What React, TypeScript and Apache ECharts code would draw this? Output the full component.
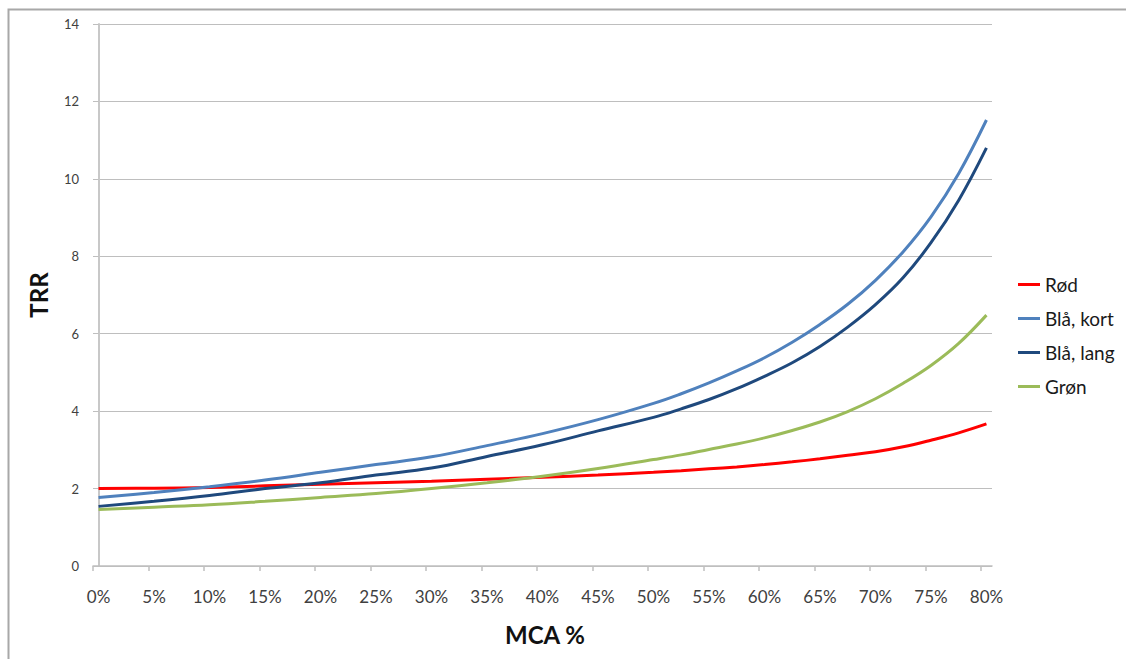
import React, { useEffect, useRef } from "react";
import * as echarts from "echarts";

// Data (MCA % -> TRR)
const mcaPct = [0, 5, 10, 15, 20, 25, 30, 35, 40, 45, 50, 52.5, 55, 57.5, 60, 62.5, 65, 67.5, 70, 72.5, 75, 77.5, 80];
const rod = [2.0, 2.01, 2.03, 2.07, 2.11, 2.15, 2.19, 2.24, 2.29, 2.35, 2.42, 2.46, 2.51, 2.56, 2.62, 2.69, 2.77, 2.86, 2.95, 3.08, 3.25, 3.44, 3.67];
const blaKort = [1.77, 1.9, 2.05, 2.22, 2.42, 2.62, 2.82, 3.11, 3.42, 3.78, 4.2, 4.45, 4.73, 5.04, 5.38, 5.78, 6.24, 6.76, 7.38, 8.12, 9.02, 10.14, 11.52];
const blaLang = [1.54, 1.67, 1.82, 2.0, 2.15, 2.35, 2.53, 2.83, 3.13, 3.49, 3.84, 4.06, 4.3, 4.58, 4.9, 5.25, 5.67, 6.17, 6.75, 7.45, 8.35, 9.45, 10.8];
const gron = [1.46, 1.52, 1.58, 1.67, 1.77, 1.87, 2.0, 2.15, 2.32, 2.52, 2.75, 2.87, 3.01, 3.15, 3.31, 3.5, 3.72, 3.99, 4.32, 4.72, 5.18, 5.75, 6.48];

const seriesNames = ["Rød", "Blå, kort", "Blå, lang", "Grøn"];
const seriesColors = ["#FF0000", "#4F81BD", "#1F497D", "#9BBB59"];
const seriesValues = [rod, blaKort, blaLang, gron];

const xLabelValues = [0, 5, 10, 15, 20, 25, 30, 35, 40, 45, 50, 55, 60, 65, 70, 75, 80];
const xTickValues = [-0.5, 4.5, 9.5, 14.5, 19.5, 24.5, 29.5, 34.5, 39.5, 44.5, 49.5, 54.5, 59.5, 64.5, 69.5, 74.5, 79.5];

const FONT = "Lato, 'Open Sans', sans-serif";

export default function App() {
  const ref = useRef<HTMLDivElement>(null);
  useEffect(() => {
    if (!ref.current) return;
    const chart = echarts.init(ref.current, undefined, { renderer: "svg" });
    chart.setOption({
      animation: false,
      backgroundColor: "#ffffff",
      textStyle: { fontFamily: FONT },
      grid: { left: 93, right: 134, top: 24, bottom: 93, containLabel: false },
      xAxis: {
        type: "value",
        min: -0.5,
        max: 80.5,
        axisLine: { show: true, lineStyle: { color: "#BFBFBF", width: 1.5 } },
        axisTick: {
          show: true,
          length: 5,
          lineStyle: { color: "#BFBFBF", width: 1.5 },
          customValues: xTickValues,
        },
        axisLabel: {
          customValues: xLabelValues,
          formatter: (v: number) => v + "%",
          fontSize: 17,
          color: "#404040",
          margin: 22,
          fontFamily: FONT,
        },
        splitLine: { show: false },
      },
      yAxis: {
        type: "value",
        min: 0,
        max: 14,
        interval: 2,
        axisLine: { show: true, lineStyle: { color: "#C8C8C8", width: 2 } },
        axisTick: { show: true, length: 4, lineStyle: { color: "#BFBFBF" } },
        axisLabel: { fontSize: 13, color: "#404040", margin: 14, fontFamily: FONT },
        splitLine: { show: true, lineStyle: { color: "#BEBEBE", width: 1 } },
      },
      legend: {
        orient: "vertical",
        left: 1018,
        top: 275,
        padding: 0,
        icon: "rect",
        itemWidth: 22,
        itemHeight: 3,
        itemGap: 15,
        data: seriesNames,
        textStyle: { fontSize: 19, color: "#1a1a1a", fontFamily: FONT },
      },
      graphic: [
        {
          type: "rect",
          silent: true,
          shape: { x: 8.5, y: 9.5, width: 1300, height: 900 },
          style: { fill: "none", stroke: "#A8A8A8", lineWidth: 2 },
        },
        {
          type: "text",
          x: 38,
          y: 295,
          rotation: Math.PI / 2,
          style: {
            text: "TRR",
            fontSize: 24,
            fontWeight: "bold",
            fill: "#111111",
            align: "center",
            verticalAlign: "middle",
            fontFamily: FONT,
          },
        },
        {
          type: "text",
          x: 545,
          y: 634,
          style: {
            text: "MCA %",
            fontSize: 24,
            fontWeight: "bold",
            fill: "#111111",
            align: "center",
            verticalAlign: "middle",
            fontFamily: FONT,
          },
        },
      ],
      series: seriesNames.map((name, i) => ({
        name,
        type: "line",
        smooth: 0.4,
        symbol: "none",
        data: mcaPct.map((x, j) => [x, seriesValues[i][j]]),
        lineStyle: { color: seriesColors[i], width: 3 },
        itemStyle: { color: seriesColors[i] },
      })),
    });
    return () => chart.dispose();
  }, []);
  return (
    <div
      ref={ref}
      style={{ position: "absolute", left: 0, top: 0, width: 1126, height: 659 }}
    />
  );
}
